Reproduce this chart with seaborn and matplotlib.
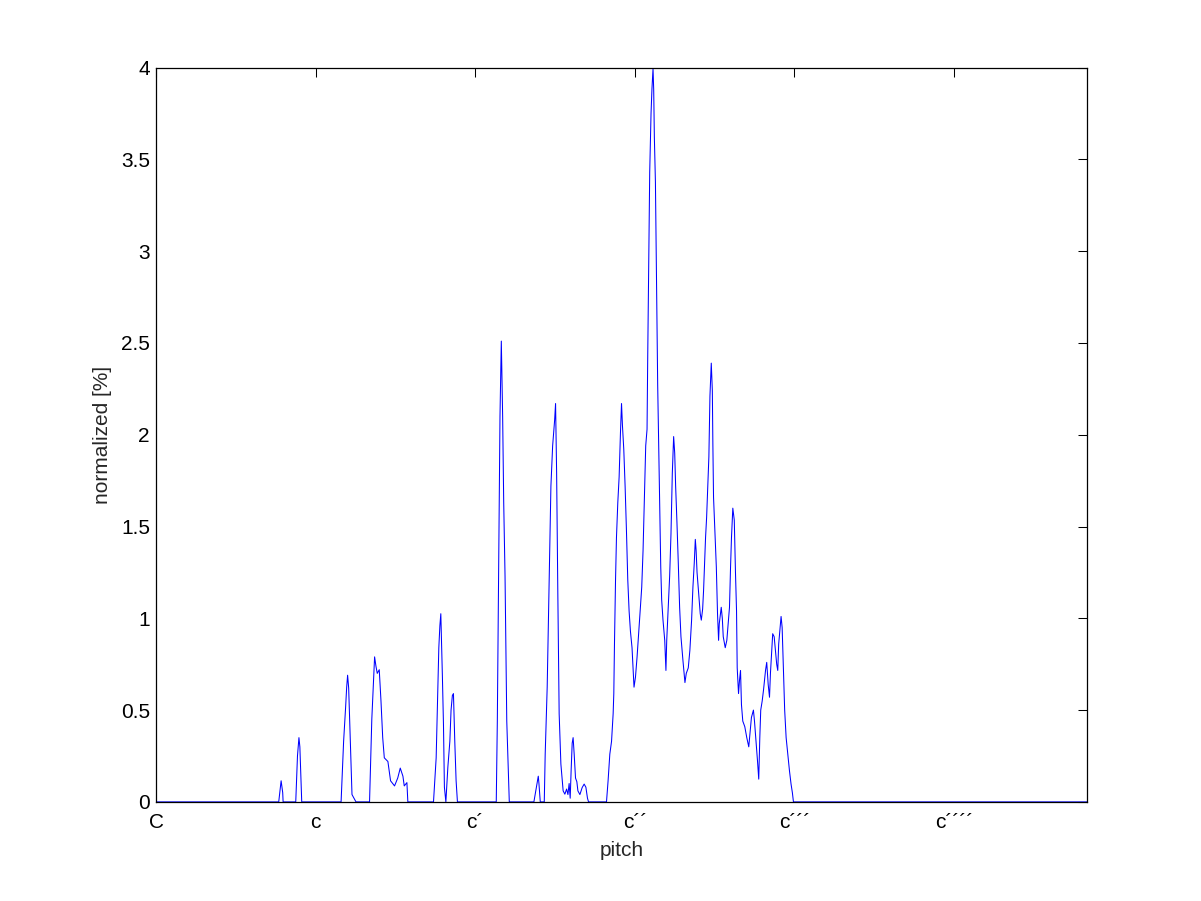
import matplotlib
matplotlib.use("Agg")
import matplotlib.pyplot as plt
import seaborn as sns
import numpy as np
import pandas as pd

# pitch in semitones above C (C = 0, c = 12, c' = 24, ...)
pitch = [
    0.00, 9.22, 9.40, 9.52, 9.55, 10.50, 10.63, 10.74, 10.81, 10.95,
    13.91, 14.10, 14.25, 14.33, 14.40, 14.48, 14.55, 14.63, 14.73, 15.03,
    16.05, 16.22, 16.43, 16.53, 16.63, 16.78, 16.91, 17.04, 17.16, 17.43,
    17.63, 17.93, 18.17, 18.36, 18.56, 18.66, 18.86, 18.93,
    20.86, 21.06, 21.16, 21.26, 21.34, 21.41, 21.46, 21.53, 21.61, 21.68,
    21.79, 21.94, 22.09, 22.18, 22.28, 22.36, 22.46, 22.56, 22.66,
    25.58, 25.61, 25.66, 25.76, 25.86, 25.96, 26.01, 26.06, 26.14, 26.24,
    26.37, 26.49, 26.56,
    28.41, 28.74, 28.79, 28.89, 29.19, 29.26, 29.41, 29.56, 29.69, 29.82,
    29.97, 30.04, 30.12, 30.21, 30.31, 30.44, 30.61, 30.74, 30.87, 30.97,
    31.06, 31.14, 31.21, 31.29, 31.36, 31.44, 31.54, 31.64, 31.72, 31.87,
    32.04, 32.19, 32.32, 32.44, 32.52,
    33.87, 33.99, 34.12, 34.25, 34.37, 34.42, 34.47, 34.55, 34.62, 34.72,
    34.82, 34.92, 35.00, 35.07, 35.17, 35.27, 35.37, 35.47, 35.57, 35.67,
    35.79, 35.87, 35.94, 36.05, 36.17, 36.29, 36.42, 36.52, 36.62, 36.72,
    36.82, 36.92, 36.97, 37.04, 37.12, 37.22, 37.29, 37.37, 37.42, 37.47,
    37.55, 37.62, 37.72, 37.77, 37.82, 37.89, 37.95, 38.02, 38.12, 38.25,
    38.34, 38.40, 38.49, 38.62, 38.72, 38.82, 38.92, 39.00, 39.07, 39.17,
    39.27, 39.37, 39.47, 39.62, 39.77, 39.87, 40.02, 40.14, 40.27, 40.37,
    40.47, 40.55, 40.61, 40.68, 40.80, 40.92, 41.00, 41.10, 41.17, 41.32,
    41.40, 41.57, 41.65, 41.75, 41.83, 41.87, 41.92, 42.02, 42.13, 42.22,
    42.30, 42.35, 42.50, 42.58, 42.65, 42.80, 42.92, 43.12, 43.20, 43.27,
    43.37, 43.48, 43.57, 43.65, 43.70, 43.80, 43.87, 43.95, 44.02, 44.12,
    44.27, 44.42, 44.57, 44.68, 44.77, 44.92, 45.00, 45.13, 45.23, 45.32,
    45.40, 45.47, 45.58, 45.68, 45.83, 45.92, 46.03, 46.13, 46.20, 46.37,
    46.48, 46.67, 46.75, 46.82, 46.93, 47.00, 47.08, 47.18, 47.27, 47.38,
    47.53, 47.63, 47.75, 47.85, 47.93, 70.00,
]
normalized = [
    0.0, 0.0, 0.115, 0.05, 0.0, 0.0, 0.25, 0.35, 0.30, 0.0,
    0.0, 0.33, 0.515, 0.625, 0.69, 0.62, 0.46, 0.28, 0.04, 0.0,
    0.0, 0.45, 0.79, 0.74, 0.70, 0.72, 0.55, 0.35, 0.24, 0.22,
    0.115, 0.087, 0.13, 0.184, 0.14, 0.087, 0.105, 0.0,
    0.0, 0.24, 0.535, 0.84, 0.96, 1.025, 0.88, 0.68, 0.42, 0.08,
    0.0, 0.19, 0.33, 0.50, 0.58, 0.59, 0.33, 0.115, 0.0,
    0.0, 0.15, 0.44, 1.30, 2.10, 2.51, 2.32, 2.10, 1.63, 1.23,
    0.44, 0.15, 0.0,
    0.0, 0.14, 0.10, 0.0, 0.0, 0.26, 0.625, 1.21, 1.72, 1.94,
    2.08, 2.17, 1.79, 1.135, 0.48, 0.206, 0.06, 0.042, 0.07, 0.04,
    0.10, 0.02, 0.17, 0.32, 0.35, 0.26, 0.13, 0.11, 0.06, 0.04,
    0.078, 0.097, 0.08, 0.02, 0.0,
    0.0, 0.115, 0.26, 0.33, 0.48, 0.59, 0.86, 1.21, 1.44, 1.63,
    1.77, 2.01, 2.17, 2.05, 1.92, 1.72, 1.48, 1.21, 1.04, 0.93,
    0.84, 0.73, 0.625, 0.68, 0.79, 0.916, 1.06, 1.17, 1.37, 1.66,
    1.94, 2.03, 2.42, 2.89, 3.43, 3.75, 3.885, 3.995, 3.88, 3.62,
    3.375, 2.92, 2.27, 2.05, 1.81, 1.535, 1.28, 1.10, 0.99, 0.88,
    0.716, 0.88, 1.025, 1.23, 1.46, 1.79, 1.99, 1.90, 1.72, 1.52,
    1.30, 1.06, 0.90, 0.77, 0.65, 0.70, 0.73, 0.825, 0.99, 1.17,
    1.30, 1.43, 1.37, 1.25, 1.135, 1.025, 0.99, 1.05, 1.15, 1.44,
    1.55, 1.88, 2.21, 2.39, 2.24, 1.95, 1.66, 1.48, 1.28, 1.025,
    0.88, 0.97, 1.06, 1.00, 0.90, 0.84, 0.88, 1.06, 1.28, 1.44,
    1.60, 1.535, 1.25, 1.04, 0.73, 0.59, 0.66, 0.716, 0.53, 0.44,
    0.41, 0.35, 0.30, 0.39, 0.46, 0.50, 0.44, 0.315, 0.22, 0.124,
    0.35, 0.50, 0.55, 0.61, 0.716, 0.76, 0.64, 0.57, 0.70, 0.916,
    0.90, 0.75, 0.716, 0.86, 0.95, 1.01, 0.95, 0.72, 0.50, 0.35,
    0.24, 0.17, 0.097, 0.05, 0.0, 0.0,
]
tick_pitch = [0, 12, 24, 36, 48, 60]
tick_labels = ["C", "c", "c\u00b4", "c\u00b4\u00b4", "c\u00b4\u00b4\u00b4", "c\u00b4\u00b4\u00b4\u00b4"]
y_ticks = [0, 0.5, 1, 1.5, 2, 2.5, 3, 3.5, 4]
y_tick_labels = ["0", "0.5", "1", "1.5", "2", "2.5", "3", "3.5", "4"]

sns.set_style("white")
plt.rcParams["font.family"] = ["Liberation Sans", "DejaVu Sans"]
plt.rcParams["font.size"] = 10
plt.rcParams["axes.linewidth"] = 0.5

df = pd.DataFrame({"pitch": pitch, "normalized": normalized})

fig = plt.figure(figsize=(1201 / 150, 901 / 150), dpi=150, facecolor="white")
ax = fig.add_axes([0.13, 0.11, 0.775, 0.815])
sns.lineplot(data=df, x="pitch", y="normalized", color=(0, 0, 1), linewidth=0.5,
             ax=ax, estimator=None, sort=False, zorder=1)

ax.set_xlim(0, 70)
ax.set_ylim(0, 4)
ax.set_xticks(tick_pitch)
ax.set_xticklabels(tick_labels)
ax.set_yticks(y_ticks)
ax.set_yticklabels(y_tick_labels)
for s in ax.spines.values():
    s.set_visible(True)
    s.set_color("black")
    s.set_linewidth(0.6)
    s.set_zorder(5)
ax.tick_params(direction="in", top=True, right=True, length=4.3, width=0.5,
               colors="black", labelsize=10)
ax.tick_params(axis="x", pad=5.5)
ax.tick_params(axis="y", pad=3)
ax.set_xlabel("pitch", fontsize=10, labelpad=4)
ax.set_ylabel("normalized [%]", fontsize=10, labelpad=4)
ax.grid(False)

fig.savefig("out.png", dpi=150, facecolor="white")
